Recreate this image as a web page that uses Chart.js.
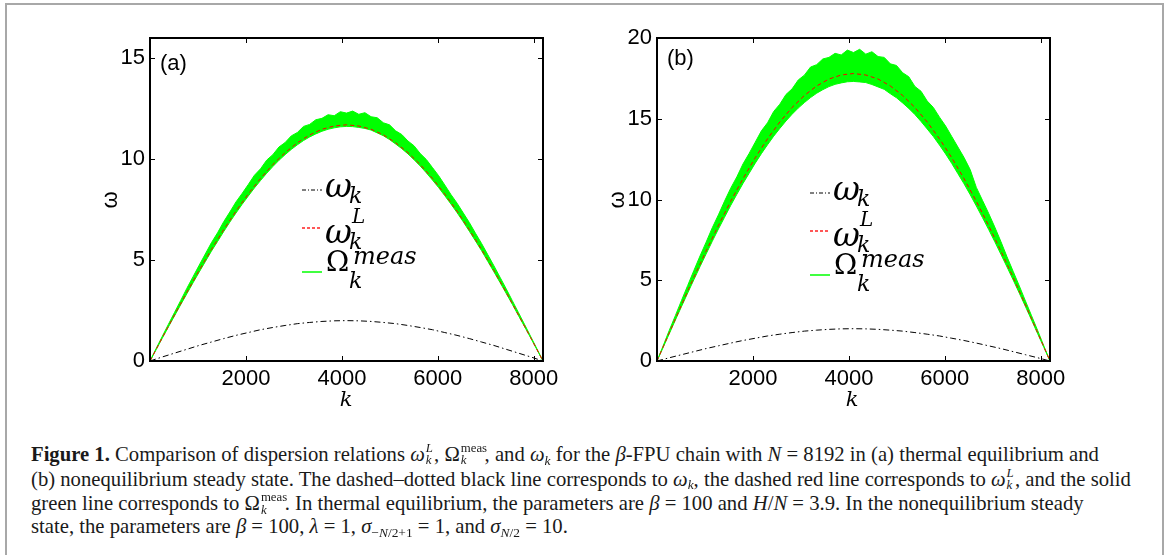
<!DOCTYPE html>
<html>
<head>
<meta charset="utf-8">
<script src="https://cdn.jsdelivr.net/npm/chart.js@4/dist/chart.umd.min.js"></script>
<style>
  html, body { margin: 0; padding: 0; background: #fff; }
  body { width: 1166px; height: 555px; position: relative; overflow: hidden; }
  .frame { position: absolute; left: 5px; top: 3px; width: 1155px; height: 620px;
           border: 2px solid #a8a8a8; }
  canvas { position: absolute; top: 0; }
  #chartA { left: 0; }
  #chartB { left: 560px; }
  .txt { position: absolute; white-space: nowrap; line-height: 1; color: #000; }
  .sans { font-family: "Liberation Sans", Arial, sans-serif; font-size: 22px; }
  .ylab { transform: translate(-50%, -50%) rotate(-90deg); }
  .xlab { font-family: "DejaVu Serif", serif; font-style: italic; font-size: 21px;
          transform: translate(-50%, -50%); }
  .leg { position: absolute; width: 140px; height: 120px; }
  .leg .m { position: absolute; font-family: "DejaVu Serif", serif; line-height: 1; white-space: nowrap; }
  .leg svg { position: absolute; left: 0; }
  .cap { position: absolute; left: 31px; top: 440px; font-family: "Liberation Serif", serif;
         font-size: 17.6px; line-height: 24.7px; color: #1a1a1a; }
  .cap div { white-space: nowrap; height: 24.7px; }
  .ss { position: relative; display: inline-block; height: 1em; vertical-align: baseline; }
  .ss > * { position: absolute; left: 1px; font-size: 0.62em; line-height: 1; }
  .ss .up { top: 0.15em; }
  .ss .dn { top: 1.12em; }
  .sb { font-size: 0.65em; position: relative; top: 0.3em; line-height: 0; }
</style>
</head>
<body>
<div class="frame"></div>
<canvas id="chartA" width="600" height="400"></canvas>
<canvas id="chartB" width="606" height="400"></canvas>

<!-- axis labels / panel tags -->
<div class="txt sans" style="left:160px;top:52px;">(a)</div>
<div class="txt sans" style="left:667px;top:47px;">(b)</div>
<div class="txt sans ylab" style="left:110px;top:200px;">ω</div>
<div class="txt sans ylab" style="left:617px;top:200px;">ω</div>
<div class="txt xlab" style="left:346px;top:399px;">k</div>
<div class="txt xlab" style="left:852px;top:399px;">k</div>

<div id="legA" class="leg" style="left:302px;top:190px;"></div>
<div id="legB" class="leg" style="left:810px;top:193px;"></div>

<div class="cap" id="cap">
  <div id="capFirst"><b>Figure 1.</b> Comparison of dispersion relations <i>ω</i><span class="ss" style="width:0.45em"><i class="up">L</i><i class="dn">k</i></span>, Ω<span class="ss" style="width:1.2em"><span class="up">meas</span><i class="dn">k</i></span>, and <i>ω</i><i class="sb">k</i> for the <i>β</i>-FPU chain with <i>N</i> = 8192 in (a) thermal equilibrium and</div>
  <div>(b) nonequilibrium steady state. The dashed–dotted black line corresponds to <i>ω</i><i class="sb">k</i>, the dashed red line corresponds to <i>ω</i><span class="ss" style="width:0.45em"><i class="up">L</i><i class="dn">k</i></span>, and the solid</div>
  <div>green line corresponds to Ω<span class="ss" style="width:1.2em"><span class="up">meas</span><i class="dn">k</i></span>. In thermal equilibrium, the parameters are <i>β</i> = 100 and <i>H</i>/<i>N</i> = 3.9. In the nonequilibrium steady</div>
  <div>state, the parameters are <i>β</i> = 100, <i>λ</i> = 1, <i>σ</i><span class="sb">−<i>N</i>/2+1</span> = 1, and <i>σ</i><span class="sb"><i>N</i>/2</span> = 10.</div>
</div>

<script>
// ======= data =======
// k grid for the smooth curves (every 256 modes) and for the noisy measurement (every 128)
const K_COARSE = [0,256,512,768,1024,1280,1536,1792,2048,2304,2560,2816,3072,3328,3584,3840,4096,
  4352,4608,4864,5120,5376,5632,5888,6144,6400,6656,6912,7168,7424,7680,7936,8192];
const K_FINE = [0,128,256,384,512,640,768,896,1024,1152,1280,1408,1536,1664,1792,1920,2048,2176,
  2304,2432,2560,2688,2816,2944,3072,3200,3328,3456,3584,3712,3840,3968,4096,4224,4352,4480,4608,
  4736,4864,4992,5120,5248,5376,5504,5632,5760,5888,6016,6144,6272,6400,6528,6656,6784,6912,7040,
  7168,7296,7424,7552,7680,7808,7936,8064,8192];

// ω_k (black dash-dot), same in both panels
const OMEGA_K = [0,0.20,0.39,0.58,0.77,0.94,1.11,1.27,1.41,1.55,1.66,1.76,1.85,1.91,1.96,1.99,2.00,
  1.99,1.96,1.91,1.85,1.76,1.66,1.55,1.41,1.27,1.11,0.94,0.77,0.58,0.39,0.20,0];

// ω_k^L (red dashed)
const OMEGA_L_A = [0,1.15,2.28,3.40,4.48,5.52,6.50,7.42,8.27,9.04,9.73,10.32,10.81,11.20,11.48,11.64,11.70,
  11.64,11.48,11.20,10.81,10.32,9.73,9.04,8.27,7.42,6.50,5.52,4.48,3.40,2.28,1.15,0];
const OMEGA_L_B = [0,1.74,3.47,5.17,6.81,8.39,9.89,11.29,12.59,13.76,14.80,15.70,16.44,17.03,17.46,17.71,17.80,
  17.71,17.46,17.03,16.44,15.70,14.80,13.76,12.59,11.29,9.89,8.39,6.81,5.17,3.47,1.74,0];

// Ω_k^meas (green) — upper and lower edge of the noisy band
const MEAS_HI_A = [0,0.62,1.22,1.82,2.41,3.00,3.60,4.17,4.74,5.30,5.86,6.35,6.90,7.38,7.88,8.30,8.74,
  9.20,9.52,9.95,10.22,10.60,10.82,11.15,11.32,11.62,11.72,11.95,12.02,12.20,12.15,12.35,12.28,
  12.38,12.22,12.30,12.10,12.05,11.80,11.70,11.40,11.22,10.90,10.66,10.28,9.98,9.58,9.18,8.72,
  8.25,7.82,7.34,6.86,6.33,5.82,5.27,4.72,4.15,3.58,2.99,2.40,1.81,1.21,0.61,0];
const MEAS_LO_A = [0,0.56,1.13,1.69,2.24,2.79,3.33,3.87,4.40,4.92,5.44,5.92,6.41,6.88,7.33,7.76,8.17,
  8.57,8.94,9.30,9.63,9.94,10.22,10.48,10.71,10.92,11.10,11.25,11.38,11.48,11.55,11.60,11.62,
  11.61,11.57,11.52,11.44,11.30,11.16,10.97,10.75,10.52,10.26,9.97,9.66,9.32,8.96,8.59,8.19,
  7.78,7.35,6.90,6.43,5.95,5.46,4.94,4.42,3.89,3.35,2.81,2.25,1.70,1.14,0.57,0];
const MEAS_HI_B = [0,0.94,1.90,2.82,3.76,4.68,5.60,6.50,7.36,8.25,9.05,9.90,10.70,11.40,12.20,12.85,13.55,
  14.25,14.75,15.45,15.90,16.50,16.85,17.40,17.70,18.20,18.35,18.70,18.80,19.05,18.95,19.25,19.10,
  19.30,19.00,19.15,18.85,18.80,18.40,18.30,17.85,17.60,17.00,16.70,16.10,15.70,15.10,14.55,13.90,
  13.25,12.60,11.85,10.75,9.95,9.15,8.30,7.40,6.45,5.55,4.65,3.72,2.80,1.88,0.93,0];
const MEAS_LO_B = [0,0.84,1.69,2.54,3.38,4.21,5.03,5.84,6.63,7.41,8.17,8.90,9.63,10.32,10.99,11.62,12.25,
  12.84,13.39,13.92,14.40,14.86,15.28,15.66,16.00,16.31,16.58,16.80,16.99,17.13,17.22,17.29,17.31,
  17.28,17.24,17.12,16.97,16.82,16.55,16.30,15.98,15.64,15.26,14.83,14.37,13.90,13.37,12.82,12.23,
  11.60,10.97,10.30,9.60,8.88,8.15,7.39,6.61,5.82,5.02,4.20,3.37,2.53,1.68,0.84,0];

const X_TICKS = [2000, 4000, 6000, 8000];
const Y_TICKS_A = [0, 5, 10, 15];
const Y_TICKS_B = [0, 5, 10, 15, 20];

// colours / dashes
const BLACK_DASH = [6, 3, 1.5, 3];
const RED_DASH = [4, 3];
const GREEN = "#00ff00";

// pair k-values with y-values
const pts = (ks, ys) => ks.map((k, i) => ({ x: k, y: ys[i] }));

// box round the plot + inward ticks on all four sides
const frameTicks = {
  id: "frameTicks",
  afterDraw(chart) {
    const { ctx, chartArea: a, scales: { x, y } } = chart;
    ctx.save();
    ctx.strokeStyle = "#000";
    ctx.lineWidth = 1;
    ctx.beginPath();
    for (const t of x.ticks) {
      const px = Math.round(x.getPixelForValue(t.value)) + 0.5;
      ctx.moveTo(px, a.bottom); ctx.lineTo(px, a.bottom - 5);
      ctx.moveTo(px, a.top); ctx.lineTo(px, a.top + 5);
    }
    for (const t of y.ticks) {
      const py = Math.round(y.getPixelForValue(t.value)) + 0.5;
      ctx.moveTo(a.left, py); ctx.lineTo(a.left + 5, py);
      ctx.moveTo(a.right, py); ctx.lineTo(a.right - 5, py);
    }
    ctx.stroke();
    ctx.lineWidth = 2;
    ctx.strokeRect(a.left, a.top, a.right - a.left, a.bottom - a.top);
    ctx.restore();
  }
};

function makePanel(id, omegaL, hi, lo, yTicks, yMax, yWidth, padRight) {
  return new Chart(document.getElementById(id), {
    type: "line",
    data: {
      datasets: [
        { data: pts(K_COARSE, OMEGA_K), borderColor: "#000", borderWidth: 1, borderDash: BLACK_DASH,
          pointRadius: 0, fill: false },
        { data: pts(K_COARSE, omegaL), borderColor: "#ff0000", borderWidth: 1, borderDash: RED_DASH,
          pointRadius: 0, fill: false },
        { data: pts(K_FINE, hi), borderColor: GREEN, borderWidth: 1, backgroundColor: GREEN,
          pointRadius: 0, fill: "+1" },
        { data: pts(K_FINE, lo), borderColor: GREEN, borderWidth: 1,
          pointRadius: 0, fill: false }
      ]
    },
    options: {
      responsive: false,
      animation: false,
      events: [],
      layout: { padding: { top: 38, right: padRight, left: 0, bottom: 0 } },
      plugins: { legend: { display: false }, tooltip: { enabled: false } },
      scales: {
        x: {
          type: "linear", min: 0, max: 8192,
          grid: { display: false, drawTicks: false },
          border: { display: false },
          afterBuildTicks: s => { s.ticks = X_TICKS.map(v => ({ value: v })); },
          afterFit: s => { s.height = 39; },
          ticks: { color: "#000", padding: 5, maxRotation: 0, autoSkip: false,
                   font: { family: "Liberation Sans", size: 22 }, callback: v => String(v) }
        },
        y: {
          type: "linear", min: 0, max: yMax,
          grid: { display: false, drawTicks: false },
          border: { display: false },
          afterBuildTicks: s => { s.ticks = yTicks.map(v => ({ value: v })); },
          afterFit: s => { s.width = yWidth; },
          ticks: { color: "#000", padding: 5, autoSkip: false,
                   font: { family: "Liberation Sans", size: 22 }, callback: v => String(v) }
        }
      }
    },
    plugins: [frameTicks]
  });
}

makePanel("chartA", OMEGA_L_A, MEAS_HI_A, MEAS_LO_A, Y_TICKS_A, 16, 150, 57);
makePanel("chartB", OMEGA_L_B, MEAS_HI_B, MEAS_LO_B, Y_TICKS_B, 20, 97, 116);

// legend with stacked sub/superscripts (Chart.js legend can't do that)
function buildLegend(el) {
  const sample = (y, color, dash, w) =>
    `<svg width="22" height="6" style="top:${y - 3}px"><line x1="0" y1="3" x2="20" y2="3"
      stroke="${color}" stroke-width="${w}" stroke-dasharray="${dash}"/></svg>`;
  el.innerHTML =
    sample(0, "#000", "4,2,1,2", 1) +
    sample(38, "#ff2020", "3,2", 1.4) +
    sample(82, GREEN, "", 1.5) +
    `<span class="m" style="left:23px;top:-21px;font-size:33px;font-style:italic;">ω</span>` +
    `<span class="m" style="left:47px;top:-5px;font-size:22px;font-style:italic;">k</span>` +
    `<span class="m" style="left:50px;top:16px;font-size:20px;font-style:italic;">L</span>` +
    `<span class="m" style="left:23px;top:25px;font-size:33px;font-style:italic;">ω</span>` +
    `<span class="m" style="left:47px;top:41px;font-size:22px;font-style:italic;">k</span>` +
    `<span class="m" style="left:24px;top:58px;font-size:28px;">Ω</span>` +
    `<span class="m" style="left:51px;top:54px;font-size:24px;font-style:italic;">meas</span>` +
    `<span class="m" style="left:47px;top:80px;font-size:22px;font-style:italic;">k</span>`;
}
buildLegend(document.getElementById("legA"));
buildLegend(document.getElementById("legB"));

// size the caption so its first line spans the same width as in the figure
const cap = document.getElementById("cap");
const first = document.getElementById("capFirst");
first.style.display = "inline-block";
const w = first.getBoundingClientRect().width;
first.style.display = "";
cap.style.fontSize = (17.6 * 1068 / w).toFixed(2) + "px";
</script>
</body>
</html>
